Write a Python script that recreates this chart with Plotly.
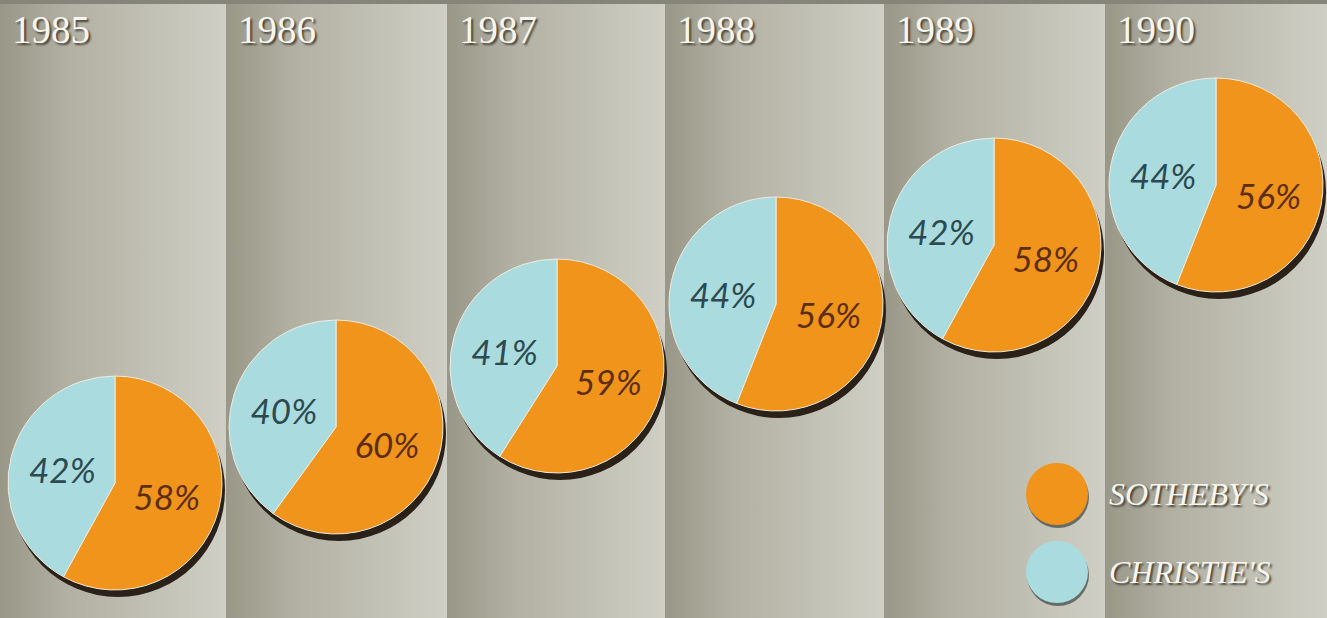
import plotly.graph_objects as go

# Auction market share, Sotheby's vs Christie's
years = ["1985", "1986", "1987", "1988", "1989", "1990"]
sothebys = [58, 60, 59, 56, 58, 56]
christies = [42, 40, 41, 44, 42, 44]
houses = ["SOTHEBY'S", "CHRISTIE'S"]

# --- layout constants (pixels, y measured from top) ---
W, H = 1327, 618
PANEL_EDGES = [0, 226, 447, 665, 884, 1105, 1327]
PIE_CX = [115, 336, 557, 776, 994, 1216]
PIE_CY = [483, 427, 366, 304, 245, 185]
PIE_R = 107
SHADOW_DX, SHADOW_DY = 3, 7

ORANGE = "#f0941c"
BLUE = "#aadcdf"
ORANGE_TXT = "#5e2e10"
BLUE_TXT = "#2c4a50"
SHADOW = "#2a2118"
SERIF = "Liberation Serif, DejaVu Serif, serif"
PCT_FONT = "Lato, Noto Sans, sans-serif"


def dom(cx, cy, r, dx=0, dy=0):
    return dict(
        x=[(cx - r + dx) / W, (cx + r + dx) / W],
        y=[1 - (cy + r + dy) / H, 1 - (cy - r + dy) / H],
    )


fig = go.Figure()

# background panels, each with a left-dark / right-light sweep
for i in range(len(years)):
    x0, x1 = PANEL_EDGES[i], PANEL_EDGES[i + 1]
    fig.add_trace(go.Scatter(
        x=[x0, x1, x1, x0, x0], y=[0, 0, H, H, 0],
        mode="lines", line=dict(width=0), fill="toself",
        fillgradient=dict(
            type="horizontal",
            colorscale=[[0, "#989788"], [0.3, "#b1b0a2"], [1, "#d0cfc5"]],
        ),
        hoverinfo="skip", showlegend=False,
    ))

# dark strip along the top edge
fig.add_trace(go.Scatter(
    x=[0, W, W, 0, 0], y=[0, 0, 4, 4, 0], mode="lines", line=dict(width=0),
    fill="toself", fillcolor="#86857a", hoverinfo="skip", showlegend=False,
))

# legend swatches (with shadow) and labels
LEG_X, LEG_Y, LEG_R = 1057, [494, 572], 31
fig.add_trace(go.Scatter(
    x=[LEG_X + 1, LEG_X + 1], y=[y + 3 for y in LEG_Y], mode="markers",
    marker=dict(size=2 * LEG_R, color="#3c4440", opacity=0.7, line=dict(width=0)),
    hoverinfo="skip", showlegend=False,
))
fig.add_trace(go.Scatter(
    x=[LEG_X, LEG_X], y=LEG_Y, mode="markers",
    marker=dict(size=2 * LEG_R, color=[ORANGE, BLUE], line=dict(width=0)),
    hoverinfo="skip", showlegend=False,
))

# pies: shadow disc first, then the split
for i, yr in enumerate(years):
    fig.add_trace(go.Pie(
        values=[1], domain=dom(PIE_CX[i], PIE_CY[i], PIE_R, SHADOW_DX, SHADOW_DY),
        marker=dict(colors=[SHADOW], line=dict(width=0)),
        textinfo="none", hoverinfo="skip", showlegend=False, sort=False,
    ))
    fig.add_trace(go.Pie(
        labels=houses, values=[sothebys[i], christies[i]],
        domain=dom(PIE_CX[i], PIE_CY[i], PIE_R),
        sort=False, direction="clockwise", rotation=0,
        marker=dict(colors=[ORANGE, BLUE], line=dict(color="#efeae0", width=1)),
        texttemplate="%{value}%", textposition="inside",
        insidetextorientation="horizontal",
        textfont=dict(family=PCT_FONT, size=35, style="italic",
                      color=[ORANGE_TXT, BLUE_TXT]),
        name=yr, showlegend=False,
        hovertemplate=yr + "<br>%{label}: %{value}%<extra></extra>",
    ))

annotations = []
for i, yr in enumerate(years):
    annotations.append(dict(
        x=(PANEL_EDGES[i] + 10) / W, y=1 - 30 / H, xref="paper", yref="paper",
        xanchor="left", yanchor="middle", text=yr, showarrow=False,
        font=dict(family=SERIF, size=39, color="#f7f5ee",
                  shadow="2px 2px 2px rgba(40,34,24,0.75)"),
    ))
for name, y in zip(houses, LEG_Y):
    annotations.append(dict(
        x=(LEG_X + 50) / W, y=1 - y / H, xref="paper", yref="paper",
        xanchor="left", yanchor="middle", text=name, showarrow=False,
        font=dict(family=SERIF, size=32, style="italic", color="#f7f5ee",
                  shadow="2px 2px 2px rgba(40,34,24,0.75)"),
    ))

fig.update_layout(
    width=W, height=H, margin=dict(l=0, r=0, t=0, b=0),
    paper_bgcolor="#b9b8ab", plot_bgcolor="rgba(0,0,0,0)",
    xaxis=dict(range=[0, W], visible=False, fixedrange=True),
    yaxis=dict(range=[H, 0], visible=False, fixedrange=True),
    annotations=annotations, showlegend=False,
)

# drop the browser's default 8px body margin so the figure sits flush
fig.write_html("out.html", config=dict(displayModeBar=False),
               post_script="document.body.style.margin='0';")
